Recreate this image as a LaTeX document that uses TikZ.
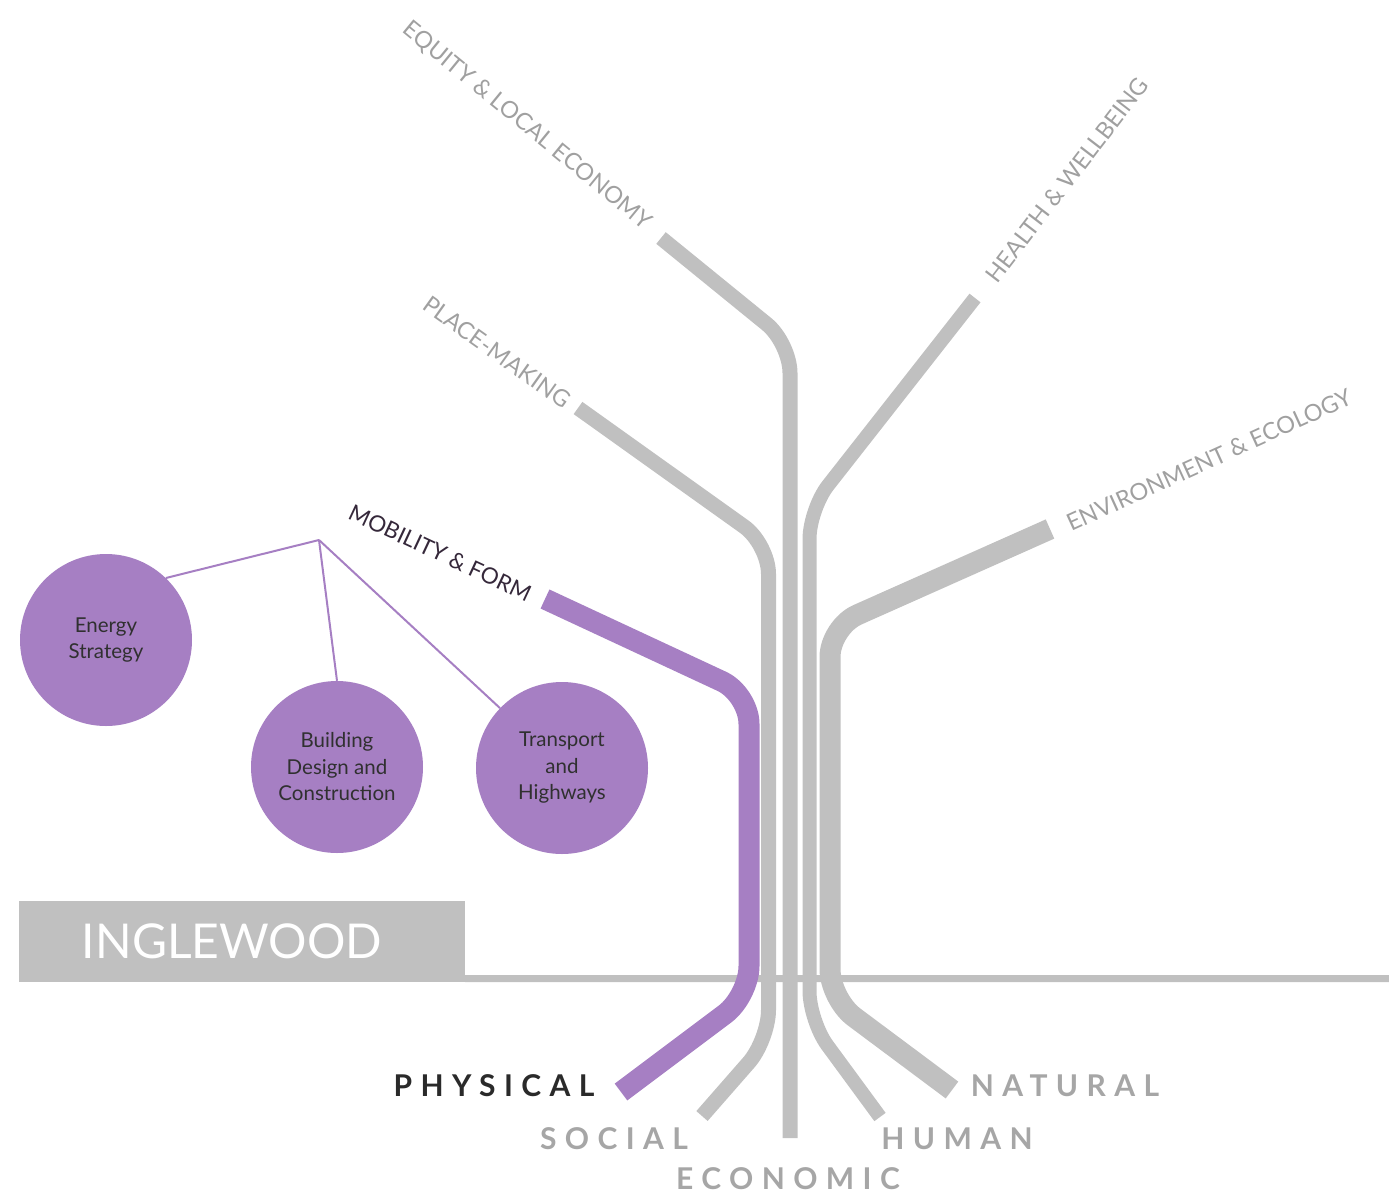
\documentclass[tikz,border=0pt]{standalone}
\usepackage{fontspec}
\setmainfont{Lato}
\newfontfamily\spacedfont[LetterSpace=28]{Lato}

\definecolor{trackgray}{HTML}{C0C0C0}
\definecolor{labelgray}{HTML}{A0A0A0}
\definecolor{capgray}{HTML}{A6A6A6}
\definecolor{capdark}{HTML}{2A2A2A}
\definecolor{plum}{HTML}{A67FC3}
\definecolor{bubbletext}{HTML}{303030}
\definecolor{mobtext}{HTML}{35283A}

\tikzset{
  track/.style={draw=trackgray, line width=15pt, rounded corners=30pt},
  bubble/.style={circle, fill=plum, minimum size=172pt, inner sep=0pt,
    align=center, text=bubbletext, font=\fontsize{20.5}{26.5}\selectfont},
  branchlabel/.style={text=labelgray, inner sep=0pt, font=\fontsize{23.5}{23.5}\selectfont},
  rootlabel/.style={inner sep=0pt, font=\spacedfont\bfseries\fontsize{30}{30}\selectfont},
  twig/.style={draw=plum, line width=2pt},
}

\begin{document}
\begin{tikzpicture}[x=1pt, y=-1pt]
\useasboundingbox (0,0) rectangle (1389,1194);

% ground line and title block
\node[fill=trackgray, minimum width=446pt, minimum height=81pt, inner sep=0pt] (titlebox) at (242,941.5) {};
\node[text=white, inner sep=0pt, font=\fontsize{48}{48}\selectfont] (title) at (232,941) {INGLEWOOD};
\coordinate (groundL) at (titlebox.south east);
\coordinate (groundR) at (1389,978.5);
\draw[trackgray, line width=7pt] ([yshift=3.5pt]groundL) -- (groundR);

% capital tracks: each rises from a root, runs up the trunk and bends out to a branch
\draw[track] (661,238) -- (790,343) -- (790,1138);                       % economic
\draw[track] (578,408) -- (768.5,544) -- (768.5,1040) -- (702,1116);     % social
\draw[track, line width=14pt] (975,298) -- (809.5,509) -- (809.5,1021) -- (880,1117); % human
\draw[track, line width=21pt] (1050,529) -- (830,627) -- (830,999) -- (952,1090);      % natural
\draw[track, draw=plum, line width=21pt] (545,599) -- (749,694) -- (749,996) -- (621,1092); % physical

% branch labels
\node[branchlabel, rotate=-39.3] (equity) at (527,126) {EQUITY \& LOCAL ECONOMY};
\node[branchlabel, rotate=-35.5] (place) at (497,352) {PLACE-MAKING};
\node[branchlabel, rotate=52.5] (health) at (1067,180) {HEALTH \& WELLBEING};
\node[branchlabel, rotate=24.5] (environment) at (1209,460) {ENVIRONMENT \& ECOLOGY};
\node[branchlabel, text=mobtext, font=\fontsize{22.5}{22.5}\selectfont, rotate=-25] (mobility) at (440,553) {MOBILITY \& FORM};

% root labels
\node[rootlabel, text=capdark] (physical) at (494,1086) {PHYSICAL};
\node[rootlabel, text=capgray] (social) at (614,1139) {SOCIAL};
\node[rootlabel, text=capgray] (economic) at (788,1179) {ECONOMIC};
\node[rootlabel, text=capgray] (human) at (957,1139) {HUMAN};
\node[rootlabel, text=capgray] (natural) at (1065,1086) {NATURAL};

% themes hanging from the physical branch
\node[bubble] (energy) at (106,640) {Energy\\Strategy};
\node[bubble] (building) at (337,767) {Building\\Design and\\Construction};
\node[bubble] (transport) at (562,768) {Transport\\and\\Highways};
\coordinate (hub) at (319,540);
\draw[twig] (hub) -- (energy.46);
\draw[twig] (hub) -- (building.90);
\draw[twig] (hub) -- (transport.136);
\end{tikzpicture}
\end{document}
